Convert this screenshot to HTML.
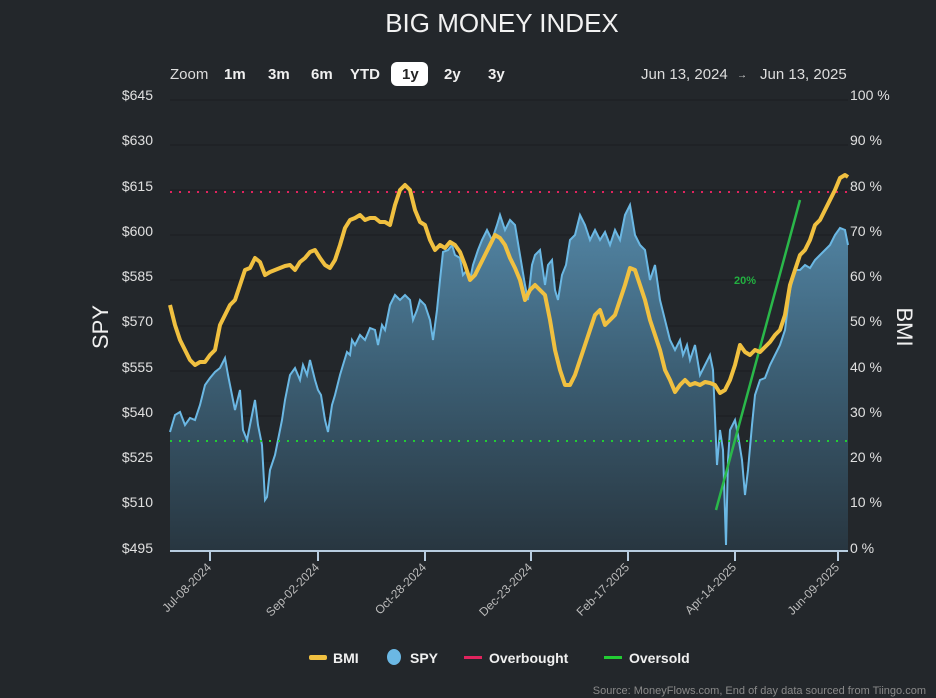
<!DOCTYPE html>
<html><head><meta charset="utf-8"><style>
body{margin:0;background:#23272b;width:936px;height:698px;overflow:hidden;font-family:"Liberation Sans",sans-serif;color:#e6e6e6}
</style></head><body>
<svg width="936" height="698" xmlns="http://www.w3.org/2000/svg" style="position:absolute;left:0;top:0">
<defs><linearGradient id="g" x1="0" y1="0" x2="0" y2="1"><stop offset="0" stop-color="#5488a8"/><stop offset="0.5" stop-color="#3b5d72"/><stop offset="1" stop-color="#283640"/></linearGradient></defs>
<text x="502" y="32" text-anchor="middle" font-size="26" fill="#f2f2f2">BIG MONEY INDEX</text>
<g font-size="15" fill="#ddd">
<text x="170" y="79">Zoom</text>
<g font-weight="bold" fill="#f0f0f0"><text x="224" y="79">1m</text><text x="268" y="79">3m</text><text x="311" y="79">6m</text><text x="350" y="79">YTD</text>
<rect x="391" y="62" width="37" height="24" rx="6" fill="#fff"/><text x="402" y="79" fill="#222">1y</text>
<text x="444" y="79">2y</text><text x="488" y="79">3y</text></g>
<text x="641" y="79">Jun 13, 2024</text><text x="737" y="78" font-size="10">→</text><text x="760" y="79">Jun 13, 2025</text>
</g>
<g stroke="#1b1e21" stroke-width="1">
<line x1="170" x2="848" y1="100" y2="100"/><line x1="170" x2="848" y1="145" y2="145"/><line x1="170" x2="848" y1="190" y2="190"/><line x1="170" x2="848" y1="235" y2="235"/><line x1="170" x2="848" y1="280" y2="280"/><line x1="170" x2="848" y1="326" y2="326"/><line x1="170" x2="848" y1="371" y2="371"/><line x1="170" x2="848" y1="416" y2="416"/><line x1="170" x2="848" y1="461" y2="461"/><line x1="170" x2="848" y1="506" y2="506"/>
</g>
<g font-size="14" fill="#e0e0e0" text-anchor="end">
<text x="153" y="100">$645</text><text x="153" y="145">$630</text><text x="153" y="191">$615</text><text x="153" y="236">$600</text><text x="153" y="281">$585</text><text x="153" y="326">$570</text><text x="153" y="372">$555</text><text x="153" y="417">$540</text><text x="153" y="462">$525</text><text x="153" y="507">$510</text><text x="153" y="553">$495</text>
</g>
<g font-size="14" fill="#e0e0e0">
<text x="850" y="100">100 %</text><text x="850" y="145">90 %</text><text x="850" y="191">80 %</text><text x="850" y="236">70 %</text><text x="850" y="281">60 %</text><text x="850" y="326">50 %</text><text x="850" y="372">40 %</text><text x="850" y="417">30 %</text><text x="850" y="462">20 %</text><text x="850" y="507">10 %</text><text x="850" y="553">0 %</text>
</g>
<text transform="translate(108,327) rotate(-90)" text-anchor="middle" font-size="22" fill="#f0f0f0">SPY</text>
<text transform="translate(897,327) rotate(90)" text-anchor="middle" font-size="22" fill="#f0f0f0">BMI</text>
<path id="spy" fill="url(#g)" stroke="none" d="M170,551 L170,432 175,415 180,412 185,425 190,418 195,420 200,405 205,385 210,378 215,372 220,368 225,358 228,375 232,395 235,410 240,390 243,430 247,440 250,425 255,400 258,425 262,445 265,500 267,497 270,470 275,455 278,440 282,420 285,400 290,375 295,368 300,380 303,365 307,375 310,360 315,380 318,390 321,395 325,420 328,432 332,405 335,395 340,375 343,365 347,352 350,355 352,340 355,345 360,335 365,340 370,328 375,330 378,345 382,325 385,330 390,305 395,295 400,300 405,295 410,300 413,320 417,310 420,300 425,305 430,320 433,340 437,310 440,280 443,252 448,250 452,245 455,255 460,258 463,275 467,270 470,280 473,265 478,250 482,240 487,230 492,240 497,225 500,215 505,230 510,220 515,225 520,255 525,285 528,300 532,265 535,255 540,250 545,285 548,265 552,260 555,290 558,300 562,275 566,265 570,240 575,235 580,215 585,225 590,240 595,230 600,240 605,232 610,245 615,230 620,240 625,215 630,205 635,235 640,245 645,250 650,280 655,265 660,300 665,320 670,340 675,350 680,340 683,355 687,345 690,360 695,345 700,375 705,365 710,355 713,370 717,465 720,430 723,450 726,545 728,460 730,430 735,420 738,435 742,460 745,495 748,470 752,425 755,395 760,380 765,378 770,365 775,355 780,345 785,330 790,290 795,270 800,270 805,265 810,268 815,260 820,255 825,250 830,245 835,235 840,228 845,230 848,245 L848,551 Z"/>
<polyline fill="none" stroke="#6bb8e4" stroke-width="2" points="170,432 175,415 180,412 185,425 190,418 195,420 200,405 205,385 210,378 215,372 220,368 225,358 228,375 232,395 235,410 240,390 243,430 247,440 250,425 255,400 258,425 262,445 265,500 267,497 270,470 275,455 278,440 282,420 285,400 290,375 295,368 300,380 303,365 307,375 310,360 315,380 318,390 321,395 325,420 328,432 332,405 335,395 340,375 343,365 347,352 350,355 352,340 355,345 360,335 365,340 370,328 375,330 378,345 382,325 385,330 390,305 395,295 400,300 405,295 410,300 413,320 417,310 420,300 425,305 430,320 433,340 437,310 440,280 443,252 448,250 452,245 455,255 460,258 463,275 467,270 470,280 473,265 478,250 482,240 487,230 492,240 497,225 500,215 505,230 510,220 515,225 520,255 525,285 528,300 532,265 535,255 540,250 545,285 548,265 552,260 555,290 558,300 562,275 566,265 570,240 575,235 580,215 585,225 590,240 595,230 600,240 605,232 610,245 615,230 620,240 625,215 630,205 635,235 640,245 645,250 650,280 655,265 660,300 665,320 670,340 675,350 680,340 683,355 687,345 690,360 695,345 700,375 705,365 710,355 713,370 717,465 720,430 723,450 726,545 728,460 730,430 735,420 738,435 742,460 745,495 748,470 752,425 755,395 760,380 765,378 770,365 775,355 780,345 785,330 790,290 795,270 800,270 805,265 810,268 815,260 820,255 825,250 830,245 835,235 840,228 845,230 848,245"/>
<line x1="170" x2="848" y1="192" y2="192" stroke="#e0245e" stroke-width="2" stroke-dasharray="2,7"/>
<line x1="170" x2="848" y1="441" y2="441" stroke="#22cc33" stroke-width="2" stroke-dasharray="2,7"/>
<line x1="716" y1="510" x2="800" y2="200" stroke="#2ab84a" stroke-width="2.5"/>
<text x="734" y="284" font-size="11" font-weight="bold" fill="#22b040">20%</text>
<polyline fill="none" stroke="#f0c040" stroke-width="4" stroke-linejoin="round" points="170,305 175,325 180,340 185,350 190,360 195,365 200,362 205,362 210,355 215,350 220,325 225,315 230,305 235,300 240,285 245,270 250,268 255,258 260,262 265,275 270,272 275,270 280,268 285,266 290,265 295,270 300,262 305,258 310,252 315,250 320,258 325,265 330,268 335,260 340,245 345,228 350,220 355,218 360,215 365,220 370,218 375,218 380,222 385,222 390,225 395,205 400,190 405,185 410,190 415,210 420,222 425,225 430,240 435,250 440,245 445,248 450,242 455,245 460,252 465,265 470,280 475,275 480,265 485,255 490,245 495,235 500,238 505,245 510,258 515,268 520,280 525,300 530,290 535,285 540,290 545,295 550,320 555,350 560,370 565,385 570,385 575,375 580,360 585,345 590,330 595,315 600,310 605,325 610,320 615,315 620,300 625,285 630,268 635,270 640,285 645,300 650,320 655,335 660,350 665,370 670,380 675,392 680,385 685,380 690,385 695,383 700,385 705,382 710,383 715,385 720,393 725,390 730,380 735,365 740,345 745,352 750,355 755,350 760,352 765,347 770,342 775,335 780,330 785,315 790,285 795,270 800,255 805,250 810,240 815,225 820,220 825,210 830,200 835,190 840,178 845,175 848,177"/>
<line x1="170" x2="848" y1="551" y2="551" stroke="#b8cde0" stroke-width="2"/>
<g stroke="#b8cde0" stroke-width="2"><line x1="210" x2="210" y1="551" y2="561"/><line x1="318" x2="318" y1="551" y2="561"/><line x1="425" x2="425" y1="551" y2="561"/><line x1="531" x2="531" y1="551" y2="561"/><line x1="628" x2="628" y1="551" y2="561"/><line x1="735" x2="735" y1="551" y2="561"/><line x1="838" x2="838" y1="551" y2="561"/></g>
<g font-size="12" fill="#bbb" text-anchor="end">
<text transform="translate(212,568) rotate(-45)">Jul-08-2024</text>
<text transform="translate(320,568) rotate(-45)">Sep-02-2024</text>
<text transform="translate(427,568) rotate(-45)">Oct-28-2024</text>
<text transform="translate(533,568) rotate(-45)">Dec-23-2024</text>
<text transform="translate(630,568) rotate(-45)">Feb-17-2025</text>
<text transform="translate(737,568) rotate(-45)">Apr-14-2025</text>
<text transform="translate(840,568) rotate(-45)">Jun-09-2025</text>
</g>
<g font-size="14" font-weight="bold" fill="#f0f0f0">
<rect x="309" y="655" width="18" height="5" rx="2" fill="#f0c040"/><text x="333" y="663">BMI</text>
<ellipse cx="394" cy="657" rx="7" ry="8" fill="#6bb8e4"/><text x="410" y="663">SPY</text>
<rect x="464" y="656" width="18" height="3" fill="#e0245e"/><text x="489" y="663">Overbought</text>
<rect x="604" y="656" width="18" height="3" fill="#22cc33"/><text x="629" y="663">Oversold</text>
</g>
<text x="926" y="694" text-anchor="end" font-size="11" fill="#8a8a8a">Source: MoneyFlows.com, End of day data sourced from Tiingo.com</text>
</svg>
</body></html>
